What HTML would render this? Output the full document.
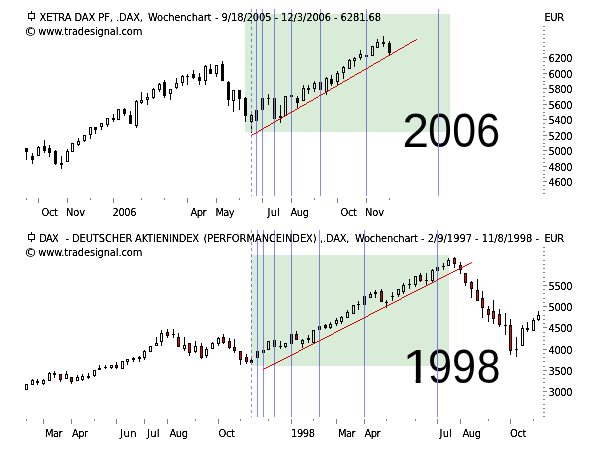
<!DOCTYPE html>
<html><head><meta charset="utf-8"><title>DAX 2006 vs 1998</title>
<style>html,body{margin:0;padding:0;background:#fff;}svg{display:block}text{white-space:pre}</style>
</head><body>
<svg width="600" height="450" viewBox="0 0 600 450" font-family='"DejaVu Sans Condensed", "DejaVu Sans", "Liberation Sans", sans-serif' font-stretch="condensed" fill="#000">
<rect x="0" y="0" width="600" height="450" fill="#fff"/>
<defs><filter id="px" x="0" y="0" width="600" height="450" filterUnits="userSpaceOnUse" color-interpolation-filters="sRGB"><feComponentTransfer><feFuncA type="linear" slope="2.0" intercept="-0.3"/></feComponentTransfer></filter></defs>
<g shape-rendering="crispEdges">
<rect x="245" y="14" width="205" height="118" fill="#d8ecd8"/>
<rect x="251" y="255" width="198" height="111" fill="#d8ecd8"/>
</g>
<text y="146.5" font-size="48" font-family="Liberation Sans, sans-serif" font-stretch="normal"><tspan x="402.60" textLength="26.43" lengthAdjust="spacingAndGlyphs">2</tspan><tspan x="428.35" textLength="23.49" lengthAdjust="spacingAndGlyphs">0</tspan><tspan x="452.30" textLength="23.84" lengthAdjust="spacingAndGlyphs">0</tspan><tspan x="476.30" textLength="23.87" lengthAdjust="spacingAndGlyphs">6</tspan></text>
<text y="383.3" font-size="48" font-family="Liberation Sans, sans-serif" font-stretch="normal"><tspan x="402.40" textLength="29.63" lengthAdjust="spacingAndGlyphs">1</tspan><tspan x="428.00" textLength="24.03" lengthAdjust="spacingAndGlyphs">9</tspan><tspan x="452.00" textLength="24.03" lengthAdjust="spacingAndGlyphs">9</tspan><tspan x="476.70" textLength="23.71" lengthAdjust="spacingAndGlyphs">8</tspan></text>
<rect x="405" y="378.5" width="10.7" height="6" fill="#fff"/><rect x="420.6" y="378.5" width="9.6" height="6" fill="#fff"/>
<g shape-rendering="crispEdges">
<rect x="31" y="11" width="1" height="10" fill="#000"/>
<rect x="28" y="13" width="7" height="6" fill="#000"/>
<rect x="29" y="14" width="5" height="4" fill="#fffffa"/>
<rect x="31" y="232" width="1" height="10" fill="#000"/>
<rect x="28" y="234" width="7" height="6" fill="#000"/>
<rect x="29" y="235" width="5" height="4" fill="#fffffa"/>
<rect x="26" y="152" width="1" height="8" fill="#000"/>
<rect x="25" y="148" width="3" height="4" fill="#000"/>
<rect x="32" y="153" width="1" height="3" fill="#000"/>
<rect x="32" y="160" width="1" height="4" fill="#000"/>
<rect x="31" y="156" width="3" height="4" fill="#000"/>
<rect x="38" y="146" width="1" height="1" fill="#000"/>
<rect x="37" y="147" width="3" height="9" fill="#000"/>
<rect x="38" y="148" width="1" height="7" fill="#fffffa"/>
<rect x="44" y="140" width="1" height="6" fill="#000"/>
<rect x="44" y="151" width="1" height="2" fill="#000"/>
<rect x="43" y="146" width="3" height="5" fill="#000"/>
<rect x="49" y="145" width="1" height="3" fill="#000"/>
<rect x="49" y="153" width="1" height="4" fill="#000"/>
<rect x="48" y="148" width="3" height="5" fill="#000"/>
<rect x="55" y="150" width="1" height="1" fill="#000"/>
<rect x="55" y="164" width="1" height="1" fill="#000"/>
<rect x="54" y="151" width="3" height="13" fill="#000"/>
<rect x="61" y="156" width="1" height="7" fill="#000"/>
<rect x="61" y="165" width="1" height="4" fill="#000"/>
<rect x="60" y="163" width="3" height="2" fill="#000"/>
<rect x="67" y="149" width="1" height="2" fill="#000"/>
<rect x="66" y="151" width="3" height="11" fill="#000"/>
<rect x="67" y="152" width="1" height="9" fill="#fffffa"/>
<rect x="71" y="143" width="3" height="9" fill="#000"/>
<rect x="72" y="144" width="1" height="7" fill="#fffffa"/>
<rect x="78" y="138" width="1" height="3" fill="#000"/>
<rect x="78" y="145" width="1" height="1" fill="#000"/>
<rect x="77" y="141" width="3" height="4" fill="#000"/>
<rect x="78" y="142" width="1" height="2" fill="#fffffa"/>
<rect x="84" y="141" width="1" height="1" fill="#000"/>
<rect x="83" y="135" width="3" height="6" fill="#000"/>
<rect x="84" y="136" width="1" height="4" fill="#fffffa"/>
<rect x="90" y="135" width="1" height="4" fill="#000"/>
<rect x="89" y="127" width="3" height="8" fill="#000"/>
<rect x="90" y="128" width="1" height="6" fill="#fffffa"/>
<rect x="95" y="130" width="1" height="4" fill="#000"/>
<rect x="94" y="127" width="3" height="3" fill="#000"/>
<rect x="101" y="127" width="1" height="3" fill="#000"/>
<rect x="100" y="123" width="3" height="4" fill="#000"/>
<rect x="101" y="124" width="1" height="2" fill="#fffffa"/>
<rect x="107" y="125" width="1" height="2" fill="#000"/>
<rect x="106" y="118" width="3" height="7" fill="#000"/>
<rect x="107" y="119" width="1" height="5" fill="#fffffa"/>
<rect x="113" y="114" width="1" height="4" fill="#000"/>
<rect x="113" y="120" width="1" height="2" fill="#000"/>
<rect x="112" y="118" width="3" height="2" fill="#000"/>
<rect x="117" y="109" width="3" height="11" fill="#000"/>
<rect x="118" y="110" width="1" height="9" fill="#fffffa"/>
<rect x="124" y="108" width="1" height="1" fill="#000"/>
<rect x="124" y="114" width="1" height="2" fill="#000"/>
<rect x="123" y="109" width="3" height="5" fill="#000"/>
<rect x="130" y="111" width="1" height="4" fill="#000"/>
<rect x="129" y="115" width="3" height="9" fill="#000"/>
<rect x="136" y="100" width="1" height="1" fill="#000"/>
<rect x="136" y="126" width="1" height="2" fill="#000"/>
<rect x="135" y="101" width="3" height="25" fill="#000"/>
<rect x="136" y="102" width="1" height="23" fill="#fffffa"/>
<rect x="141" y="92" width="1" height="8" fill="#000"/>
<rect x="141" y="103" width="1" height="1" fill="#000"/>
<rect x="140" y="100" width="3" height="3" fill="#000"/>
<rect x="141" y="101" width="1" height="1" fill="#fffffa"/>
<rect x="147" y="93" width="1" height="4" fill="#000"/>
<rect x="147" y="100" width="1" height="5" fill="#000"/>
<rect x="146" y="97" width="3" height="3" fill="#000"/>
<rect x="147" y="98" width="1" height="1" fill="#fffffa"/>
<rect x="153" y="88" width="1" height="1" fill="#000"/>
<rect x="153" y="98" width="1" height="1" fill="#000"/>
<rect x="152" y="89" width="3" height="9" fill="#000"/>
<rect x="153" y="90" width="1" height="7" fill="#fffffa"/>
<rect x="159" y="83" width="1" height="1" fill="#000"/>
<rect x="159" y="90" width="1" height="2" fill="#000"/>
<rect x="158" y="84" width="3" height="6" fill="#000"/>
<rect x="159" y="85" width="1" height="4" fill="#fffffa"/>
<rect x="164" y="80" width="1" height="2" fill="#000"/>
<rect x="164" y="96" width="1" height="2" fill="#000"/>
<rect x="163" y="82" width="3" height="14" fill="#000"/>
<rect x="170" y="94" width="1" height="6" fill="#000"/>
<rect x="169" y="89" width="3" height="5" fill="#000"/>
<rect x="170" y="90" width="1" height="3" fill="#fffffa"/>
<rect x="176" y="78" width="1" height="5" fill="#000"/>
<rect x="176" y="88" width="1" height="1" fill="#000"/>
<rect x="175" y="83" width="3" height="5" fill="#000"/>
<rect x="176" y="84" width="1" height="3" fill="#fffffa"/>
<rect x="182" y="75" width="1" height="1" fill="#000"/>
<rect x="182" y="83" width="1" height="3" fill="#000"/>
<rect x="181" y="76" width="3" height="7" fill="#000"/>
<rect x="182" y="77" width="1" height="5" fill="#fffffa"/>
<rect x="187" y="74" width="1" height="2" fill="#000"/>
<rect x="187" y="77" width="1" height="8" fill="#000"/>
<rect x="186" y="76" width="3" height="1" fill="#000"/>
<rect x="193" y="70" width="1" height="4" fill="#000"/>
<rect x="193" y="78" width="1" height="1" fill="#000"/>
<rect x="192" y="74" width="3" height="4" fill="#000"/>
<rect x="199" y="73" width="1" height="4" fill="#000"/>
<rect x="199" y="81" width="1" height="4" fill="#000"/>
<rect x="198" y="77" width="3" height="4" fill="#000"/>
<rect x="205" y="65" width="1" height="1" fill="#000"/>
<rect x="205" y="81" width="1" height="4" fill="#000"/>
<rect x="204" y="66" width="3" height="15" fill="#000"/>
<rect x="205" y="67" width="1" height="13" fill="#fffffa"/>
<rect x="210" y="64" width="1" height="5" fill="#000"/>
<rect x="209" y="69" width="3" height="5" fill="#000"/>
<rect x="216" y="74" width="1" height="3" fill="#000"/>
<rect x="215" y="65" width="3" height="9" fill="#000"/>
<rect x="216" y="66" width="1" height="7" fill="#fffffa"/>
<rect x="222" y="61" width="1" height="3" fill="#000"/>
<rect x="221" y="64" width="3" height="17" fill="#000"/>
<rect x="228" y="81" width="1" height="1" fill="#000"/>
<rect x="228" y="100" width="1" height="6" fill="#000"/>
<rect x="227" y="82" width="3" height="18" fill="#000"/>
<rect x="233" y="101" width="1" height="11" fill="#000"/>
<rect x="232" y="90" width="3" height="11" fill="#000"/>
<rect x="233" y="91" width="1" height="9" fill="#fffffa"/>
<rect x="239" y="99" width="1" height="11" fill="#000"/>
<rect x="238" y="90" width="3" height="9" fill="#000"/>
<rect x="245" y="97" width="1" height="1" fill="#000"/>
<rect x="245" y="116" width="1" height="6" fill="#000"/>
<rect x="244" y="98" width="3" height="18" fill="#000"/>
<rect x="251" y="113" width="1" height="2" fill="#000"/>
<rect x="251" y="122" width="1" height="11" fill="#000"/>
<rect x="250" y="115" width="3" height="7" fill="#000"/>
<rect x="251" y="116" width="1" height="5" fill="#d8ecd8"/>
<rect x="255" y="110" width="3" height="11" fill="#000"/>
<rect x="256" y="111" width="1" height="9" fill="#d8ecd8"/>
<rect x="261" y="98" width="3" height="12" fill="#000"/>
<rect x="262" y="99" width="1" height="10" fill="#d8ecd8"/>
<rect x="268" y="94" width="1" height="4" fill="#000"/>
<rect x="268" y="99" width="1" height="6" fill="#000"/>
<rect x="267" y="98" width="3" height="1" fill="#000"/>
<rect x="273" y="98" width="3" height="21" fill="#000"/>
<rect x="274" y="99" width="1" height="19" fill="#d8ecd8"/>
<rect x="280" y="105" width="1" height="11" fill="#000"/>
<rect x="280" y="118" width="1" height="5" fill="#000"/>
<rect x="279" y="116" width="3" height="2" fill="#000"/>
<rect x="284" y="96" width="3" height="20" fill="#000"/>
<rect x="285" y="97" width="1" height="18" fill="#d8ecd8"/>
<rect x="290" y="95" width="3" height="2" fill="#000"/>
<rect x="297" y="96" width="1" height="2" fill="#000"/>
<rect x="297" y="103" width="1" height="5" fill="#000"/>
<rect x="296" y="98" width="3" height="5" fill="#000"/>
<rect x="303" y="85" width="1" height="3" fill="#000"/>
<rect x="302" y="88" width="3" height="13" fill="#000"/>
<rect x="303" y="89" width="1" height="11" fill="#d8ecd8"/>
<rect x="308" y="85" width="1" height="3" fill="#000"/>
<rect x="308" y="90" width="1" height="4" fill="#000"/>
<rect x="307" y="88" width="3" height="2" fill="#000"/>
<rect x="314" y="81" width="1" height="2" fill="#000"/>
<rect x="314" y="89" width="1" height="3" fill="#000"/>
<rect x="313" y="83" width="3" height="6" fill="#000"/>
<rect x="314" y="84" width="1" height="4" fill="#d8ecd8"/>
<rect x="319" y="82" width="3" height="8" fill="#000"/>
<rect x="320" y="83" width="1" height="6" fill="#d8ecd8"/>
<rect x="326" y="77" width="1" height="1" fill="#000"/>
<rect x="326" y="92" width="1" height="3" fill="#000"/>
<rect x="325" y="78" width="3" height="14" fill="#000"/>
<rect x="326" y="79" width="1" height="12" fill="#d8ecd8"/>
<rect x="331" y="75" width="1" height="4" fill="#000"/>
<rect x="331" y="84" width="1" height="2" fill="#000"/>
<rect x="330" y="79" width="3" height="5" fill="#000"/>
<rect x="337" y="71" width="1" height="2" fill="#000"/>
<rect x="337" y="82" width="1" height="3" fill="#000"/>
<rect x="336" y="73" width="3" height="9" fill="#000"/>
<rect x="337" y="74" width="1" height="7" fill="#d8ecd8"/>
<rect x="343" y="66" width="1" height="1" fill="#000"/>
<rect x="343" y="73" width="1" height="6" fill="#000"/>
<rect x="342" y="67" width="3" height="6" fill="#000"/>
<rect x="343" y="68" width="1" height="4" fill="#d8ecd8"/>
<rect x="349" y="59" width="1" height="1" fill="#000"/>
<rect x="348" y="60" width="3" height="9" fill="#000"/>
<rect x="349" y="61" width="1" height="7" fill="#d8ecd8"/>
<rect x="354" y="57" width="1" height="1" fill="#000"/>
<rect x="354" y="61" width="1" height="6" fill="#000"/>
<rect x="353" y="58" width="3" height="3" fill="#000"/>
<rect x="354" y="59" width="1" height="1" fill="#d8ecd8"/>
<rect x="360" y="50" width="1" height="4" fill="#000"/>
<rect x="360" y="58" width="1" height="2" fill="#000"/>
<rect x="359" y="54" width="3" height="4" fill="#000"/>
<rect x="360" y="55" width="1" height="2" fill="#d8ecd8"/>
<rect x="365" y="55" width="3" height="2" fill="#000"/>
<rect x="371" y="46" width="3" height="10" fill="#000"/>
<rect x="372" y="47" width="1" height="8" fill="#d8ecd8"/>
<rect x="377" y="39" width="1" height="3" fill="#000"/>
<rect x="376" y="42" width="3" height="6" fill="#000"/>
<rect x="377" y="43" width="1" height="4" fill="#d8ecd8"/>
<rect x="383" y="36" width="1" height="6" fill="#000"/>
<rect x="383" y="44" width="1" height="3" fill="#000"/>
<rect x="382" y="42" width="3" height="2" fill="#000"/>
<rect x="389" y="41" width="1" height="2" fill="#000"/>
<rect x="389" y="53" width="1" height="3" fill="#000"/>
<rect x="388" y="43" width="3" height="10" fill="#000"/>
<rect x="25" y="384" width="3" height="6" fill="#000"/>
<rect x="26" y="385" width="1" height="4" fill="#fffffa"/>
<rect x="32" y="379" width="1" height="1" fill="#000"/>
<rect x="31" y="380" width="3" height="5" fill="#000"/>
<rect x="32" y="381" width="1" height="3" fill="#fffffa"/>
<rect x="37" y="379" width="1" height="2" fill="#000"/>
<rect x="37" y="383" width="1" height="2" fill="#000"/>
<rect x="36" y="381" width="3" height="2" fill="#000"/>
<rect x="43" y="379" width="1" height="1" fill="#000"/>
<rect x="43" y="384" width="1" height="1" fill="#000"/>
<rect x="42" y="380" width="3" height="4" fill="#000"/>
<rect x="43" y="381" width="1" height="2" fill="#fffffa"/>
<rect x="49" y="372" width="1" height="1" fill="#000"/>
<rect x="48" y="373" width="3" height="8" fill="#000"/>
<rect x="49" y="374" width="1" height="6" fill="#fffffa"/>
<rect x="54" y="371" width="1" height="2" fill="#000"/>
<rect x="54" y="375" width="1" height="3" fill="#000"/>
<rect x="53" y="373" width="3" height="2" fill="#000"/>
<rect x="60" y="380" width="1" height="2" fill="#000"/>
<rect x="59" y="374" width="3" height="6" fill="#000"/>
<rect x="60" y="375" width="1" height="4" fill="#ff0000"/>
<rect x="66" y="371" width="1" height="3" fill="#000"/>
<rect x="65" y="374" width="3" height="5" fill="#000"/>
<rect x="66" y="375" width="1" height="3" fill="#fffffa"/>
<rect x="71" y="382" width="1" height="2" fill="#000"/>
<rect x="70" y="377" width="3" height="5" fill="#000"/>
<rect x="71" y="378" width="1" height="3" fill="#ff0000"/>
<rect x="77" y="375" width="1" height="2" fill="#000"/>
<rect x="76" y="377" width="3" height="4" fill="#000"/>
<rect x="77" y="378" width="1" height="2" fill="#fffffa"/>
<rect x="82" y="374" width="1" height="2" fill="#000"/>
<rect x="82" y="380" width="1" height="1" fill="#000"/>
<rect x="81" y="376" width="3" height="4" fill="#000"/>
<rect x="82" y="377" width="1" height="2" fill="#fffffa"/>
<rect x="88" y="373" width="1" height="3" fill="#000"/>
<rect x="88" y="378" width="1" height="1" fill="#000"/>
<rect x="87" y="376" width="3" height="2" fill="#000"/>
<rect x="94" y="376" width="1" height="1" fill="#000"/>
<rect x="93" y="370" width="3" height="6" fill="#000"/>
<rect x="94" y="371" width="1" height="4" fill="#fffffa"/>
<rect x="99" y="365" width="1" height="3" fill="#000"/>
<rect x="98" y="368" width="3" height="2" fill="#000"/>
<rect x="105" y="365" width="1" height="2" fill="#000"/>
<rect x="105" y="368" width="1" height="1" fill="#000"/>
<rect x="104" y="367" width="3" height="1" fill="#000"/>
<rect x="111" y="368" width="1" height="1" fill="#000"/>
<rect x="110" y="365" width="3" height="3" fill="#000"/>
<rect x="111" y="366" width="1" height="1" fill="#fffffa"/>
<rect x="116" y="362" width="1" height="3" fill="#000"/>
<rect x="116" y="368" width="1" height="1" fill="#000"/>
<rect x="115" y="365" width="3" height="3" fill="#000"/>
<rect x="116" y="366" width="1" height="1" fill="#ff0000"/>
<rect x="121" y="361" width="3" height="8" fill="#000"/>
<rect x="122" y="362" width="1" height="6" fill="#fffffa"/>
<rect x="127" y="362" width="1" height="3" fill="#000"/>
<rect x="126" y="359" width="3" height="3" fill="#000"/>
<rect x="127" y="360" width="1" height="1" fill="#fffffa"/>
<rect x="133" y="357" width="1" height="1" fill="#000"/>
<rect x="133" y="360" width="1" height="2" fill="#000"/>
<rect x="132" y="358" width="3" height="2" fill="#000"/>
<rect x="139" y="356" width="1" height="1" fill="#000"/>
<rect x="139" y="359" width="1" height="3" fill="#000"/>
<rect x="138" y="357" width="3" height="2" fill="#000"/>
<rect x="144" y="350" width="1" height="1" fill="#000"/>
<rect x="144" y="358" width="1" height="2" fill="#000"/>
<rect x="143" y="351" width="3" height="7" fill="#000"/>
<rect x="144" y="352" width="1" height="5" fill="#fffffa"/>
<rect x="149" y="346" width="3" height="6" fill="#000"/>
<rect x="150" y="347" width="1" height="4" fill="#fffffa"/>
<rect x="156" y="337" width="1" height="6" fill="#000"/>
<rect x="155" y="343" width="3" height="3" fill="#000"/>
<rect x="156" y="344" width="1" height="1" fill="#fffffa"/>
<rect x="161" y="330" width="1" height="3" fill="#000"/>
<rect x="161" y="342" width="1" height="4" fill="#000"/>
<rect x="160" y="333" width="3" height="9" fill="#000"/>
<rect x="161" y="334" width="1" height="7" fill="#fffffa"/>
<rect x="167" y="329" width="1" height="3" fill="#000"/>
<rect x="167" y="336" width="1" height="2" fill="#000"/>
<rect x="166" y="332" width="3" height="4" fill="#000"/>
<rect x="167" y="333" width="1" height="2" fill="#ff0000"/>
<rect x="173" y="329" width="1" height="5" fill="#000"/>
<rect x="173" y="335" width="1" height="3" fill="#000"/>
<rect x="172" y="334" width="3" height="1" fill="#000"/>
<rect x="178" y="333" width="1" height="4" fill="#000"/>
<rect x="177" y="337" width="3" height="10" fill="#000"/>
<rect x="178" y="338" width="1" height="8" fill="#ff0000"/>
<rect x="184" y="337" width="1" height="8" fill="#000"/>
<rect x="184" y="349" width="1" height="2" fill="#000"/>
<rect x="183" y="345" width="3" height="4" fill="#000"/>
<rect x="184" y="346" width="1" height="2" fill="#fffffa"/>
<rect x="189" y="353" width="1" height="3" fill="#000"/>
<rect x="188" y="343" width="3" height="10" fill="#000"/>
<rect x="189" y="344" width="1" height="8" fill="#ff0000"/>
<rect x="195" y="341" width="1" height="5" fill="#000"/>
<rect x="195" y="352" width="1" height="1" fill="#000"/>
<rect x="194" y="346" width="3" height="6" fill="#000"/>
<rect x="195" y="347" width="1" height="4" fill="#fffffa"/>
<rect x="201" y="343" width="1" height="3" fill="#000"/>
<rect x="201" y="358" width="1" height="1" fill="#000"/>
<rect x="200" y="346" width="3" height="12" fill="#000"/>
<rect x="201" y="347" width="1" height="10" fill="#ff0000"/>
<rect x="206" y="347" width="1" height="2" fill="#000"/>
<rect x="206" y="356" width="1" height="2" fill="#000"/>
<rect x="205" y="349" width="3" height="7" fill="#000"/>
<rect x="206" y="350" width="1" height="5" fill="#fffffa"/>
<rect x="212" y="342" width="1" height="1" fill="#000"/>
<rect x="211" y="343" width="3" height="6" fill="#000"/>
<rect x="212" y="344" width="1" height="4" fill="#fffffa"/>
<rect x="218" y="337" width="1" height="1" fill="#000"/>
<rect x="218" y="344" width="1" height="2" fill="#000"/>
<rect x="217" y="338" width="3" height="6" fill="#000"/>
<rect x="218" y="339" width="1" height="4" fill="#fffffa"/>
<rect x="223" y="334" width="1" height="3" fill="#000"/>
<rect x="223" y="343" width="1" height="1" fill="#000"/>
<rect x="222" y="337" width="3" height="6" fill="#000"/>
<rect x="223" y="338" width="1" height="4" fill="#ff0000"/>
<rect x="229" y="338" width="1" height="3" fill="#000"/>
<rect x="229" y="348" width="1" height="1" fill="#000"/>
<rect x="228" y="341" width="3" height="7" fill="#000"/>
<rect x="229" y="342" width="1" height="5" fill="#ff0000"/>
<rect x="234" y="339" width="1" height="8" fill="#000"/>
<rect x="234" y="351" width="1" height="2" fill="#000"/>
<rect x="233" y="347" width="3" height="4" fill="#000"/>
<rect x="234" y="348" width="1" height="2" fill="#ff0000"/>
<rect x="240" y="360" width="1" height="5" fill="#000"/>
<rect x="239" y="351" width="3" height="9" fill="#000"/>
<rect x="240" y="352" width="1" height="7" fill="#ff0000"/>
<rect x="246" y="354" width="1" height="3" fill="#000"/>
<rect x="246" y="362" width="1" height="2" fill="#000"/>
<rect x="245" y="357" width="3" height="5" fill="#000"/>
<rect x="246" y="358" width="1" height="3" fill="#ff0000"/>
<rect x="251" y="359" width="1" height="1" fill="#000"/>
<rect x="250" y="360" width="3" height="3" fill="#000"/>
<rect x="251" y="361" width="1" height="1" fill="#dc0000"/>
<rect x="256" y="351" width="3" height="7" fill="#000"/>
<rect x="257" y="352" width="1" height="5" fill="#d8ecd8"/>
<rect x="262" y="350" width="3" height="3" fill="#000"/>
<rect x="263" y="351" width="1" height="1" fill="#d8ecd8"/>
<rect x="267" y="341" width="3" height="9" fill="#000"/>
<rect x="268" y="342" width="1" height="7" fill="#d8ecd8"/>
<rect x="273" y="340" width="3" height="7" fill="#000"/>
<rect x="274" y="341" width="1" height="5" fill="#d8ecd8"/>
<rect x="280" y="341" width="1" height="5" fill="#000"/>
<rect x="280" y="347" width="1" height="2" fill="#000"/>
<rect x="279" y="346" width="3" height="1" fill="#000"/>
<rect x="285" y="347" width="1" height="1" fill="#000"/>
<rect x="284" y="343" width="3" height="4" fill="#000"/>
<rect x="285" y="344" width="1" height="2" fill="#d8ecd8"/>
<rect x="290" y="334" width="3" height="10" fill="#000"/>
<rect x="291" y="335" width="1" height="8" fill="#d8ecd8"/>
<rect x="296" y="331" width="1" height="3" fill="#000"/>
<rect x="295" y="334" width="3" height="6" fill="#000"/>
<rect x="296" y="335" width="1" height="4" fill="#dc0000"/>
<rect x="302" y="339" width="1" height="1" fill="#000"/>
<rect x="302" y="344" width="1" height="4" fill="#000"/>
<rect x="301" y="340" width="3" height="4" fill="#000"/>
<rect x="302" y="341" width="1" height="2" fill="#d8ecd8"/>
<rect x="308" y="335" width="1" height="3" fill="#000"/>
<rect x="308" y="340" width="1" height="3" fill="#000"/>
<rect x="307" y="338" width="3" height="2" fill="#000"/>
<rect x="312" y="330" width="3" height="13" fill="#000"/>
<rect x="313" y="331" width="1" height="11" fill="#d8ecd8"/>
<rect x="318" y="326" width="3" height="4" fill="#000"/>
<rect x="319" y="327" width="1" height="2" fill="#d8ecd8"/>
<rect x="325" y="324" width="1" height="1" fill="#000"/>
<rect x="325" y="328" width="1" height="1" fill="#000"/>
<rect x="324" y="325" width="3" height="3" fill="#000"/>
<rect x="325" y="326" width="1" height="1" fill="#dc0000"/>
<rect x="330" y="322" width="1" height="2" fill="#000"/>
<rect x="330" y="328" width="1" height="1" fill="#000"/>
<rect x="329" y="324" width="3" height="4" fill="#000"/>
<rect x="330" y="325" width="1" height="2" fill="#d8ecd8"/>
<rect x="336" y="318" width="1" height="2" fill="#000"/>
<rect x="336" y="324" width="1" height="2" fill="#000"/>
<rect x="335" y="320" width="3" height="4" fill="#000"/>
<rect x="336" y="321" width="1" height="2" fill="#d8ecd8"/>
<rect x="341" y="316" width="1" height="1" fill="#000"/>
<rect x="341" y="322" width="1" height="2" fill="#000"/>
<rect x="340" y="317" width="3" height="5" fill="#000"/>
<rect x="341" y="318" width="1" height="3" fill="#d8ecd8"/>
<rect x="347" y="310" width="1" height="2" fill="#000"/>
<rect x="346" y="312" width="3" height="6" fill="#000"/>
<rect x="347" y="313" width="1" height="4" fill="#d8ecd8"/>
<rect x="352" y="305" width="3" height="9" fill="#000"/>
<rect x="353" y="306" width="1" height="7" fill="#d8ecd8"/>
<rect x="358" y="301" width="1" height="3" fill="#000"/>
<rect x="358" y="305" width="1" height="5" fill="#000"/>
<rect x="357" y="304" width="3" height="1" fill="#000"/>
<rect x="363" y="296" width="3" height="9" fill="#000"/>
<rect x="364" y="297" width="1" height="7" fill="#d8ecd8"/>
<rect x="370" y="292" width="1" height="2" fill="#000"/>
<rect x="369" y="294" width="3" height="4" fill="#000"/>
<rect x="370" y="295" width="1" height="2" fill="#d8ecd8"/>
<rect x="375" y="290" width="1" height="2" fill="#000"/>
<rect x="375" y="294" width="1" height="4" fill="#000"/>
<rect x="374" y="292" width="3" height="2" fill="#000"/>
<rect x="381" y="289" width="1" height="2" fill="#000"/>
<rect x="380" y="291" width="3" height="11" fill="#000"/>
<rect x="381" y="292" width="1" height="9" fill="#dc0000"/>
<rect x="386" y="300" width="1" height="2" fill="#000"/>
<rect x="386" y="303" width="1" height="5" fill="#000"/>
<rect x="385" y="302" width="3" height="1" fill="#000"/>
<rect x="392" y="292" width="1" height="4" fill="#000"/>
<rect x="392" y="297" width="1" height="4" fill="#000"/>
<rect x="391" y="296" width="3" height="1" fill="#000"/>
<rect x="398" y="295" width="1" height="2" fill="#000"/>
<rect x="397" y="289" width="3" height="6" fill="#000"/>
<rect x="398" y="290" width="1" height="4" fill="#d8ecd8"/>
<rect x="403" y="283" width="1" height="2" fill="#000"/>
<rect x="403" y="292" width="1" height="2" fill="#000"/>
<rect x="402" y="285" width="3" height="7" fill="#000"/>
<rect x="403" y="286" width="1" height="5" fill="#d8ecd8"/>
<rect x="409" y="279" width="1" height="5" fill="#000"/>
<rect x="409" y="285" width="1" height="4" fill="#000"/>
<rect x="408" y="284" width="3" height="1" fill="#000"/>
<rect x="415" y="285" width="1" height="2" fill="#000"/>
<rect x="414" y="276" width="3" height="9" fill="#000"/>
<rect x="415" y="277" width="1" height="7" fill="#d8ecd8"/>
<rect x="420" y="273" width="1" height="2" fill="#000"/>
<rect x="420" y="281" width="1" height="1" fill="#000"/>
<rect x="419" y="275" width="3" height="6" fill="#000"/>
<rect x="420" y="276" width="1" height="4" fill="#dc0000"/>
<rect x="426" y="273" width="1" height="7" fill="#000"/>
<rect x="426" y="281" width="1" height="4" fill="#000"/>
<rect x="425" y="280" width="3" height="1" fill="#000"/>
<rect x="432" y="269" width="1" height="1" fill="#000"/>
<rect x="432" y="281" width="1" height="1" fill="#000"/>
<rect x="431" y="270" width="3" height="11" fill="#000"/>
<rect x="432" y="271" width="1" height="9" fill="#d8ecd8"/>
<rect x="436" y="267" width="3" height="4" fill="#000"/>
<rect x="437" y="268" width="1" height="2" fill="#d8ecd8"/>
<rect x="443" y="263" width="1" height="3" fill="#000"/>
<rect x="443" y="267" width="1" height="3" fill="#000"/>
<rect x="442" y="266" width="3" height="1" fill="#000"/>
<rect x="448" y="258" width="1" height="2" fill="#000"/>
<rect x="447" y="260" width="3" height="6" fill="#000"/>
<rect x="448" y="261" width="1" height="4" fill="#d8ecd8"/>
<rect x="454" y="257" width="1" height="1" fill="#000"/>
<rect x="454" y="264" width="1" height="4" fill="#000"/>
<rect x="453" y="258" width="3" height="6" fill="#000"/>
<rect x="454" y="259" width="1" height="4" fill="#ff0000"/>
<rect x="460" y="262" width="1" height="3" fill="#000"/>
<rect x="460" y="270" width="1" height="4" fill="#000"/>
<rect x="459" y="265" width="3" height="5" fill="#000"/>
<rect x="460" y="266" width="1" height="3" fill="#ff0000"/>
<rect x="465" y="283" width="1" height="3" fill="#000"/>
<rect x="464" y="273" width="3" height="10" fill="#000"/>
<rect x="465" y="274" width="1" height="8" fill="#ff0000"/>
<rect x="471" y="281" width="1" height="1" fill="#000"/>
<rect x="471" y="289" width="1" height="9" fill="#000"/>
<rect x="470" y="282" width="3" height="7" fill="#000"/>
<rect x="471" y="283" width="1" height="5" fill="#ff0000"/>
<rect x="477" y="279" width="1" height="11" fill="#000"/>
<rect x="476" y="290" width="3" height="11" fill="#000"/>
<rect x="477" y="291" width="1" height="9" fill="#ff0000"/>
<rect x="482" y="291" width="1" height="7" fill="#000"/>
<rect x="482" y="308" width="1" height="10" fill="#000"/>
<rect x="481" y="298" width="3" height="10" fill="#000"/>
<rect x="482" y="299" width="1" height="8" fill="#ff0000"/>
<rect x="488" y="306" width="1" height="3" fill="#000"/>
<rect x="488" y="315" width="1" height="7" fill="#000"/>
<rect x="487" y="309" width="3" height="6" fill="#000"/>
<rect x="488" y="310" width="1" height="4" fill="#ff0000"/>
<rect x="493" y="300" width="1" height="11" fill="#000"/>
<rect x="493" y="319" width="1" height="5" fill="#000"/>
<rect x="492" y="311" width="3" height="8" fill="#000"/>
<rect x="493" y="312" width="1" height="6" fill="#ff0000"/>
<rect x="499" y="309" width="1" height="5" fill="#000"/>
<rect x="499" y="325" width="1" height="2" fill="#000"/>
<rect x="498" y="314" width="3" height="11" fill="#000"/>
<rect x="499" y="315" width="1" height="9" fill="#ff0000"/>
<rect x="505" y="313" width="1" height="12" fill="#000"/>
<rect x="505" y="326" width="1" height="9" fill="#000"/>
<rect x="504" y="325" width="3" height="1" fill="#000"/>
<rect x="510" y="319" width="1" height="6" fill="#000"/>
<rect x="510" y="351" width="1" height="4" fill="#000"/>
<rect x="509" y="325" width="3" height="26" fill="#000"/>
<rect x="510" y="326" width="1" height="24" fill="#ff0000"/>
<rect x="516" y="337" width="1" height="12" fill="#000"/>
<rect x="516" y="350" width="1" height="7" fill="#000"/>
<rect x="515" y="349" width="3" height="1" fill="#000"/>
<rect x="522" y="325" width="1" height="3" fill="#000"/>
<rect x="521" y="328" width="3" height="18" fill="#000"/>
<rect x="522" y="329" width="1" height="16" fill="#fffffa"/>
<rect x="527" y="322" width="1" height="6" fill="#000"/>
<rect x="527" y="330" width="1" height="2" fill="#000"/>
<rect x="526" y="328" width="3" height="2" fill="#000"/>
<rect x="533" y="318" width="1" height="2" fill="#000"/>
<rect x="532" y="320" width="3" height="11" fill="#000"/>
<rect x="533" y="321" width="1" height="9" fill="#fffffa"/>
<rect x="538" y="311" width="1" height="4" fill="#000"/>
<rect x="538" y="320" width="1" height="1" fill="#000"/>
<rect x="537" y="315" width="3" height="5" fill="#000"/>
<rect x="538" y="316" width="1" height="3" fill="#fffffa"/>
<rect x="256" y="9" width="1" height="5" fill="#8888ff"/><rect x="256" y="14" width="1" height="118" fill="#737ed8"/><rect x="256" y="132" width="1" height="64" fill="#8888ff"/>
<rect x="262" y="9" width="1" height="5" fill="#8888ff"/><rect x="262" y="14" width="1" height="118" fill="#737ed8"/><rect x="262" y="132" width="1" height="64" fill="#8888ff"/>
<rect x="274" y="9" width="1" height="5" fill="#8888ff"/><rect x="274" y="14" width="1" height="118" fill="#737ed8"/><rect x="274" y="132" width="1" height="64" fill="#8888ff"/>
<rect x="291" y="9" width="1" height="5" fill="#8888ff"/><rect x="291" y="14" width="1" height="118" fill="#737ed8"/><rect x="291" y="132" width="1" height="64" fill="#8888ff"/>
<rect x="320" y="9" width="1" height="5" fill="#8888ff"/><rect x="320" y="14" width="1" height="118" fill="#737ed8"/><rect x="320" y="132" width="1" height="64" fill="#8888ff"/>
<rect x="366" y="9" width="1" height="5" fill="#8888ff"/><rect x="366" y="14" width="1" height="118" fill="#737ed8"/><rect x="366" y="132" width="1" height="64" fill="#8888ff"/>
<rect x="438" y="9" width="1" height="5" fill="#8888ff"/><rect x="438" y="14" width="1" height="118" fill="#737ed8"/><rect x="438" y="132" width="1" height="64" fill="#8888ff"/>
<rect x="251" y="9" width="1" height="3" fill="#8888ff"/>
<rect x="251" y="15" width="1" height="3" fill="#737ed8"/>
<rect x="251" y="21" width="1" height="3" fill="#737ed8"/>
<rect x="251" y="27" width="1" height="3" fill="#737ed8"/>
<rect x="251" y="33" width="1" height="3" fill="#737ed8"/>
<rect x="251" y="39" width="1" height="3" fill="#737ed8"/>
<rect x="251" y="45" width="1" height="3" fill="#737ed8"/>
<rect x="251" y="51" width="1" height="3" fill="#737ed8"/>
<rect x="251" y="57" width="1" height="3" fill="#737ed8"/>
<rect x="251" y="63" width="1" height="3" fill="#737ed8"/>
<rect x="251" y="69" width="1" height="3" fill="#737ed8"/>
<rect x="251" y="75" width="1" height="3" fill="#737ed8"/>
<rect x="251" y="81" width="1" height="3" fill="#737ed8"/>
<rect x="251" y="87" width="1" height="3" fill="#737ed8"/>
<rect x="251" y="93" width="1" height="3" fill="#737ed8"/>
<rect x="251" y="99" width="1" height="3" fill="#737ed8"/>
<rect x="251" y="105" width="1" height="3" fill="#737ed8"/>
<rect x="251" y="111" width="1" height="3" fill="#737ed8"/>
<rect x="251" y="117" width="1" height="3" fill="#737ed8"/>
<rect x="251" y="123" width="1" height="3" fill="#737ed8"/>
<rect x="251" y="129" width="1" height="3" fill="#737ed8"/>
<rect x="251" y="135" width="1" height="3" fill="#8888ff"/>
<rect x="251" y="141" width="1" height="3" fill="#8888ff"/>
<rect x="251" y="147" width="1" height="3" fill="#8888ff"/>
<rect x="251" y="153" width="1" height="3" fill="#8888ff"/>
<rect x="251" y="159" width="1" height="3" fill="#8888ff"/>
<rect x="251" y="165" width="1" height="3" fill="#8888ff"/>
<rect x="251" y="171" width="1" height="3" fill="#8888ff"/>
<rect x="251" y="177" width="1" height="3" fill="#8888ff"/>
<rect x="251" y="183" width="1" height="3" fill="#8888ff"/>
<rect x="251" y="189" width="1" height="3" fill="#8888ff"/>
<rect x="251" y="195" width="1" height="1" fill="#8888ff"/>
<rect x="257" y="230" width="1" height="25" fill="#8888ff"/><rect x="257" y="255" width="1" height="111" fill="#737ed8"/><rect x="257" y="366" width="1" height="51" fill="#8888ff"/>
<rect x="263" y="230" width="1" height="25" fill="#8888ff"/><rect x="263" y="255" width="1" height="111" fill="#737ed8"/><rect x="263" y="366" width="1" height="51" fill="#8888ff"/>
<rect x="274" y="230" width="1" height="25" fill="#8888ff"/><rect x="274" y="255" width="1" height="111" fill="#737ed8"/><rect x="274" y="366" width="1" height="51" fill="#8888ff"/>
<rect x="291" y="230" width="1" height="25" fill="#8888ff"/><rect x="291" y="255" width="1" height="111" fill="#737ed8"/><rect x="291" y="366" width="1" height="51" fill="#8888ff"/>
<rect x="319" y="230" width="1" height="25" fill="#8888ff"/><rect x="319" y="255" width="1" height="111" fill="#737ed8"/><rect x="319" y="366" width="1" height="51" fill="#8888ff"/>
<rect x="364" y="230" width="1" height="25" fill="#8888ff"/><rect x="364" y="255" width="1" height="111" fill="#737ed8"/><rect x="364" y="366" width="1" height="51" fill="#8888ff"/>
<rect x="437" y="230" width="1" height="25" fill="#8888ff"/><rect x="437" y="255" width="1" height="111" fill="#737ed8"/><rect x="437" y="366" width="1" height="51" fill="#8888ff"/>
<rect x="251" y="230" width="1" height="3" fill="#8888ff"/>
<rect x="251" y="236" width="1" height="3" fill="#8888ff"/>
<rect x="251" y="242" width="1" height="3" fill="#8888ff"/>
<rect x="251" y="248" width="1" height="3" fill="#8888ff"/>
<rect x="251" y="254" width="1" height="1" fill="#8888ff"/><rect x="251" y="255" width="1" height="2" fill="#737ed8"/>
<rect x="251" y="260" width="1" height="3" fill="#737ed8"/>
<rect x="251" y="266" width="1" height="3" fill="#737ed8"/>
<rect x="251" y="272" width="1" height="3" fill="#737ed8"/>
<rect x="251" y="278" width="1" height="3" fill="#737ed8"/>
<rect x="251" y="284" width="1" height="3" fill="#737ed8"/>
<rect x="251" y="290" width="1" height="3" fill="#737ed8"/>
<rect x="251" y="296" width="1" height="3" fill="#737ed8"/>
<rect x="251" y="302" width="1" height="3" fill="#737ed8"/>
<rect x="251" y="308" width="1" height="3" fill="#737ed8"/>
<rect x="251" y="314" width="1" height="3" fill="#737ed8"/>
<rect x="251" y="320" width="1" height="3" fill="#737ed8"/>
<rect x="251" y="326" width="1" height="3" fill="#737ed8"/>
<rect x="251" y="332" width="1" height="3" fill="#737ed8"/>
<rect x="251" y="338" width="1" height="3" fill="#737ed8"/>
<rect x="251" y="344" width="1" height="3" fill="#737ed8"/>
<rect x="251" y="350" width="1" height="3" fill="#737ed8"/>
<rect x="251" y="356" width="1" height="3" fill="#737ed8"/>
<rect x="251" y="362" width="1" height="3" fill="#737ed8"/>
<rect x="251" y="368" width="1" height="3" fill="#8888ff"/>
<rect x="251" y="374" width="1" height="3" fill="#8888ff"/>
<rect x="251" y="380" width="1" height="3" fill="#8888ff"/>
<rect x="251" y="386" width="1" height="3" fill="#8888ff"/>
<rect x="251" y="392" width="1" height="3" fill="#8888ff"/>
<rect x="251" y="398" width="1" height="3" fill="#8888ff"/>
<rect x="251" y="404" width="1" height="3" fill="#8888ff"/>
<rect x="251" y="410" width="1" height="3" fill="#8888ff"/>
<rect x="251" y="416" width="1" height="1" fill="#8888ff"/>
<rect x="543" y="26" width="2" height="1" fill="#808080"/>
<rect x="543" y="30" width="2" height="1" fill="#808080"/>
<rect x="543" y="34" width="2" height="1" fill="#808080"/>
<rect x="543" y="38" width="2" height="1" fill="#808080"/>
<rect x="543" y="42" width="2" height="1" fill="#808080"/>
<rect x="543" y="46" width="2" height="1" fill="#808080"/>
<rect x="543" y="50" width="2" height="1" fill="#808080"/>
<rect x="543" y="53" width="2" height="1" fill="#808080"/>
<rect x="543" y="57" width="4" height="1" fill="#808080"/>
<rect x="543" y="61" width="2" height="1" fill="#808080"/>
<rect x="543" y="65" width="2" height="1" fill="#808080"/>
<rect x="543" y="69" width="2" height="1" fill="#808080"/>
<rect x="543" y="73" width="4" height="1" fill="#808080"/>
<rect x="543" y="77" width="2" height="1" fill="#808080"/>
<rect x="543" y="81" width="2" height="1" fill="#808080"/>
<rect x="543" y="84" width="2" height="1" fill="#808080"/>
<rect x="543" y="88" width="4" height="1" fill="#808080"/>
<rect x="543" y="92" width="2" height="1" fill="#808080"/>
<rect x="543" y="96" width="2" height="1" fill="#808080"/>
<rect x="543" y="100" width="2" height="1" fill="#808080"/>
<rect x="543" y="104" width="4" height="1" fill="#808080"/>
<rect x="543" y="108" width="2" height="1" fill="#808080"/>
<rect x="543" y="112" width="2" height="1" fill="#808080"/>
<rect x="543" y="115" width="2" height="1" fill="#808080"/>
<rect x="543" y="119" width="4" height="1" fill="#808080"/>
<rect x="543" y="123" width="2" height="1" fill="#808080"/>
<rect x="543" y="127" width="2" height="1" fill="#808080"/>
<rect x="543" y="131" width="2" height="1" fill="#808080"/>
<rect x="543" y="135" width="4" height="1" fill="#808080"/>
<rect x="543" y="139" width="2" height="1" fill="#808080"/>
<rect x="543" y="143" width="2" height="1" fill="#808080"/>
<rect x="543" y="146" width="2" height="1" fill="#808080"/>
<rect x="543" y="150" width="4" height="1" fill="#808080"/>
<rect x="543" y="154" width="2" height="1" fill="#808080"/>
<rect x="543" y="158" width="2" height="1" fill="#808080"/>
<rect x="543" y="162" width="2" height="1" fill="#808080"/>
<rect x="543" y="166" width="4" height="1" fill="#808080"/>
<rect x="543" y="170" width="2" height="1" fill="#808080"/>
<rect x="543" y="174" width="2" height="1" fill="#808080"/>
<rect x="543" y="177" width="2" height="1" fill="#808080"/>
<rect x="543" y="181" width="4" height="1" fill="#808080"/>
<rect x="543" y="185" width="2" height="1" fill="#808080"/>
<rect x="543" y="189" width="2" height="1" fill="#808080"/>
<rect x="543" y="193" width="2" height="1" fill="#808080"/>
<rect x="543" y="247" width="2" height="1" fill="#808080"/>
<rect x="543" y="251" width="2" height="1" fill="#808080"/>
<rect x="543" y="255" width="2" height="1" fill="#808080"/>
<rect x="543" y="260" width="2" height="1" fill="#808080"/>
<rect x="543" y="264" width="2" height="1" fill="#808080"/>
<rect x="543" y="268" width="2" height="1" fill="#808080"/>
<rect x="543" y="272" width="2" height="1" fill="#808080"/>
<rect x="543" y="277" width="2" height="1" fill="#808080"/>
<rect x="543" y="281" width="2" height="1" fill="#808080"/>
<rect x="543" y="285" width="4" height="1" fill="#808080"/>
<rect x="543" y="289" width="2" height="1" fill="#808080"/>
<rect x="543" y="293" width="2" height="1" fill="#808080"/>
<rect x="543" y="298" width="2" height="1" fill="#808080"/>
<rect x="543" y="302" width="2" height="1" fill="#808080"/>
<rect x="543" y="306" width="4" height="1" fill="#808080"/>
<rect x="543" y="310" width="2" height="1" fill="#808080"/>
<rect x="543" y="315" width="2" height="1" fill="#808080"/>
<rect x="543" y="319" width="2" height="1" fill="#808080"/>
<rect x="543" y="323" width="2" height="1" fill="#808080"/>
<rect x="543" y="327" width="4" height="1" fill="#808080"/>
<rect x="543" y="332" width="2" height="1" fill="#808080"/>
<rect x="543" y="336" width="2" height="1" fill="#808080"/>
<rect x="543" y="340" width="2" height="1" fill="#808080"/>
<rect x="543" y="344" width="2" height="1" fill="#808080"/>
<rect x="543" y="349" width="4" height="1" fill="#808080"/>
<rect x="543" y="353" width="2" height="1" fill="#808080"/>
<rect x="543" y="357" width="2" height="1" fill="#808080"/>
<rect x="543" y="361" width="2" height="1" fill="#808080"/>
<rect x="543" y="366" width="2" height="1" fill="#808080"/>
<rect x="543" y="370" width="4" height="1" fill="#808080"/>
<rect x="543" y="374" width="2" height="1" fill="#808080"/>
<rect x="543" y="378" width="2" height="1" fill="#808080"/>
<rect x="543" y="382" width="2" height="1" fill="#808080"/>
<rect x="543" y="387" width="2" height="1" fill="#808080"/>
<rect x="543" y="391" width="4" height="1" fill="#808080"/>
<rect x="543" y="395" width="2" height="1" fill="#808080"/>
<rect x="543" y="399" width="2" height="1" fill="#808080"/>
<rect x="543" y="404" width="2" height="1" fill="#808080"/>
<rect x="543" y="408" width="2" height="1" fill="#808080"/>
<rect x="543" y="412" width="2" height="1" fill="#808080"/>
<rect x="543" y="416" width="2" height="1" fill="#808080"/>
<rect x="38" y="198" width="1" height="5" fill="#808080"/>
<rect x="67" y="198" width="1" height="5" fill="#808080"/>
<rect x="113" y="198" width="1" height="5" fill="#808080"/>
<rect x="187" y="198" width="1" height="5" fill="#808080"/>
<rect x="216" y="198" width="1" height="5" fill="#808080"/>
<rect x="262" y="198" width="1" height="5" fill="#808080"/>
<rect x="291" y="198" width="1" height="5" fill="#808080"/>
<rect x="337" y="198" width="1" height="5" fill="#808080"/>
<rect x="366" y="198" width="1" height="5" fill="#808080"/>
<rect x="26" y="198" width="1" height="2" fill="#808080"/>
<rect x="90" y="198" width="1" height="2" fill="#808080"/>
<rect x="141" y="198" width="1" height="2" fill="#808080"/>
<rect x="164" y="198" width="1" height="2" fill="#808080"/>
<rect x="239" y="198" width="1" height="2" fill="#808080"/>
<rect x="314" y="198" width="1" height="2" fill="#808080"/>
<rect x="389" y="198" width="1" height="2" fill="#808080"/>
<rect x="43" y="419" width="1" height="5" fill="#808080"/>
<rect x="71" y="419" width="1" height="5" fill="#808080"/>
<rect x="116" y="419" width="1" height="5" fill="#808080"/>
<rect x="144" y="419" width="1" height="5" fill="#808080"/>
<rect x="167" y="419" width="1" height="5" fill="#808080"/>
<rect x="218" y="419" width="1" height="5" fill="#808080"/>
<rect x="291" y="419" width="1" height="5" fill="#808080"/>
<rect x="336" y="419" width="1" height="5" fill="#808080"/>
<rect x="364" y="419" width="1" height="5" fill="#808080"/>
<rect x="437" y="419" width="1" height="5" fill="#808080"/>
<rect x="460" y="419" width="1" height="5" fill="#808080"/>
<rect x="510" y="419" width="1" height="5" fill="#808080"/>
<rect x="26" y="419" width="1" height="2" fill="#808080"/>
<rect x="94" y="419" width="1" height="2" fill="#808080"/>
<rect x="195" y="419" width="1" height="2" fill="#808080"/>
<rect x="240" y="419" width="1" height="2" fill="#808080"/>
<rect x="268" y="419" width="1" height="2" fill="#808080"/>
<rect x="313" y="419" width="1" height="2" fill="#808080"/>
<rect x="386" y="419" width="1" height="2" fill="#808080"/>
<rect x="415" y="419" width="1" height="2" fill="#808080"/>
<rect x="488" y="419" width="1" height="2" fill="#808080"/>
<rect x="533" y="419" width="1" height="2" fill="#808080"/>
</g>
<g shape-rendering="crispEdges">
<rect x="251" y="135" width="1" height="1" fill="#ff0000"/><rect x="252" y="134" width="2" height="1" fill="#ff0000"/><rect x="254" y="133" width="2" height="1" fill="#ff0000"/><rect x="256" y="132" width="2" height="1" fill="#ff0000"/><rect x="258" y="131" width="1" height="1" fill="#dc0000"/><rect x="259" y="130" width="2" height="1" fill="#dc0000"/><rect x="261" y="129" width="2" height="1" fill="#dc0000"/><rect x="263" y="128" width="1" height="1" fill="#dc0000"/><rect x="264" y="127" width="2" height="1" fill="#dc0000"/><rect x="266" y="126" width="2" height="1" fill="#dc0000"/><rect x="268" y="125" width="2" height="1" fill="#dc0000"/><rect x="270" y="124" width="1" height="1" fill="#dc0000"/><rect x="271" y="123" width="2" height="1" fill="#dc0000"/><rect x="273" y="122" width="2" height="1" fill="#dc0000"/><rect x="275" y="121" width="1" height="1" fill="#dc0000"/><rect x="276" y="120" width="2" height="1" fill="#dc0000"/><rect x="278" y="119" width="2" height="1" fill="#dc0000"/><rect x="280" y="118" width="2" height="1" fill="#dc0000"/><rect x="282" y="117" width="1" height="1" fill="#dc0000"/><rect x="283" y="116" width="2" height="1" fill="#dc0000"/><rect x="285" y="115" width="2" height="1" fill="#dc0000"/><rect x="287" y="114" width="1" height="1" fill="#dc0000"/><rect x="288" y="113" width="2" height="1" fill="#dc0000"/><rect x="290" y="112" width="2" height="1" fill="#dc0000"/><rect x="292" y="111" width="2" height="1" fill="#dc0000"/><rect x="294" y="110" width="1" height="1" fill="#dc0000"/><rect x="295" y="109" width="2" height="1" fill="#dc0000"/><rect x="297" y="108" width="2" height="1" fill="#dc0000"/><rect x="299" y="107" width="1" height="1" fill="#dc0000"/><rect x="300" y="106" width="2" height="1" fill="#dc0000"/><rect x="302" y="105" width="2" height="1" fill="#dc0000"/><rect x="304" y="104" width="2" height="1" fill="#dc0000"/><rect x="306" y="103" width="1" height="1" fill="#dc0000"/><rect x="307" y="102" width="2" height="1" fill="#dc0000"/><rect x="309" y="101" width="2" height="1" fill="#dc0000"/><rect x="311" y="100" width="2" height="1" fill="#dc0000"/><rect x="313" y="99" width="1" height="1" fill="#dc0000"/><rect x="314" y="98" width="2" height="1" fill="#dc0000"/><rect x="316" y="97" width="2" height="1" fill="#dc0000"/><rect x="318" y="96" width="1" height="1" fill="#dc0000"/><rect x="319" y="95" width="2" height="1" fill="#dc0000"/><rect x="321" y="94" width="2" height="1" fill="#dc0000"/><rect x="323" y="93" width="2" height="1" fill="#dc0000"/><rect x="325" y="92" width="1" height="1" fill="#dc0000"/><rect x="326" y="91" width="2" height="1" fill="#dc0000"/><rect x="328" y="90" width="2" height="1" fill="#dc0000"/><rect x="330" y="89" width="1" height="1" fill="#dc0000"/><rect x="331" y="88" width="2" height="1" fill="#dc0000"/><rect x="333" y="87" width="2" height="1" fill="#dc0000"/><rect x="335" y="86" width="2" height="1" fill="#dc0000"/><rect x="337" y="85" width="1" height="1" fill="#dc0000"/><rect x="338" y="84" width="2" height="1" fill="#dc0000"/><rect x="340" y="83" width="2" height="1" fill="#dc0000"/><rect x="342" y="82" width="1" height="1" fill="#dc0000"/><rect x="343" y="81" width="2" height="1" fill="#dc0000"/><rect x="345" y="80" width="2" height="1" fill="#dc0000"/><rect x="347" y="79" width="2" height="1" fill="#dc0000"/><rect x="349" y="78" width="1" height="1" fill="#dc0000"/><rect x="350" y="77" width="2" height="1" fill="#dc0000"/><rect x="352" y="76" width="2" height="1" fill="#dc0000"/><rect x="354" y="75" width="1" height="1" fill="#dc0000"/><rect x="355" y="74" width="2" height="1" fill="#dc0000"/><rect x="357" y="73" width="2" height="1" fill="#dc0000"/><rect x="359" y="72" width="2" height="1" fill="#dc0000"/><rect x="361" y="71" width="1" height="1" fill="#dc0000"/><rect x="362" y="70" width="2" height="1" fill="#dc0000"/><rect x="364" y="69" width="2" height="1" fill="#dc0000"/><rect x="366" y="68" width="2" height="1" fill="#dc0000"/><rect x="368" y="67" width="1" height="1" fill="#dc0000"/><rect x="369" y="66" width="2" height="1" fill="#dc0000"/><rect x="371" y="65" width="2" height="1" fill="#dc0000"/><rect x="373" y="64" width="1" height="1" fill="#dc0000"/><rect x="374" y="63" width="2" height="1" fill="#dc0000"/><rect x="376" y="62" width="2" height="1" fill="#dc0000"/><rect x="378" y="61" width="2" height="1" fill="#dc0000"/><rect x="380" y="60" width="1" height="1" fill="#dc0000"/><rect x="381" y="59" width="2" height="1" fill="#dc0000"/><rect x="383" y="58" width="2" height="1" fill="#dc0000"/><rect x="385" y="57" width="1" height="1" fill="#dc0000"/><rect x="386" y="56" width="2" height="1" fill="#dc0000"/><rect x="388" y="55" width="2" height="1" fill="#dc0000"/><rect x="390" y="54" width="2" height="1" fill="#dc0000"/><rect x="392" y="53" width="1" height="1" fill="#dc0000"/><rect x="393" y="52" width="2" height="1" fill="#dc0000"/><rect x="395" y="51" width="2" height="1" fill="#dc0000"/><rect x="397" y="50" width="1" height="1" fill="#dc0000"/><rect x="398" y="49" width="2" height="1" fill="#dc0000"/><rect x="400" y="48" width="2" height="1" fill="#dc0000"/><rect x="402" y="47" width="2" height="1" fill="#dc0000"/><rect x="404" y="46" width="1" height="1" fill="#dc0000"/><rect x="405" y="45" width="2" height="1" fill="#dc0000"/><rect x="407" y="44" width="2" height="1" fill="#dc0000"/><rect x="409" y="43" width="1" height="1" fill="#dc0000"/><rect x="410" y="42" width="2" height="1" fill="#dc0000"/><rect x="412" y="41" width="2" height="1" fill="#dc0000"/><rect x="414" y="40" width="2" height="1" fill="#dc0000"/><rect x="416" y="39" width="1" height="1" fill="#dc0000"/>
<rect x="263" y="369" width="1" height="1" fill="#ff0000"/><rect x="264" y="368" width="2" height="1" fill="#ff0000"/><rect x="266" y="367" width="2" height="1" fill="#ff0000"/><rect x="268" y="366" width="2" height="1" fill="#ff0000"/><rect x="270" y="365" width="2" height="1" fill="#dc0000"/><rect x="272" y="364" width="2" height="1" fill="#dc0000"/><rect x="274" y="363" width="2" height="1" fill="#dc0000"/><rect x="276" y="362" width="2" height="1" fill="#dc0000"/><rect x="278" y="361" width="2" height="1" fill="#dc0000"/><rect x="280" y="360" width="2" height="1" fill="#dc0000"/><rect x="282" y="359" width="2" height="1" fill="#dc0000"/><rect x="284" y="358" width="2" height="1" fill="#dc0000"/><rect x="286" y="357" width="2" height="1" fill="#dc0000"/><rect x="288" y="356" width="2" height="1" fill="#dc0000"/><rect x="290" y="355" width="2" height="1" fill="#dc0000"/><rect x="292" y="354" width="2" height="1" fill="#dc0000"/><rect x="294" y="353" width="2" height="1" fill="#dc0000"/><rect x="296" y="352" width="2" height="1" fill="#dc0000"/><rect x="298" y="351" width="1" height="1" fill="#dc0000"/><rect x="299" y="350" width="2" height="1" fill="#dc0000"/><rect x="301" y="349" width="2" height="1" fill="#dc0000"/><rect x="303" y="348" width="2" height="1" fill="#dc0000"/><rect x="305" y="347" width="2" height="1" fill="#dc0000"/><rect x="307" y="346" width="2" height="1" fill="#dc0000"/><rect x="309" y="345" width="2" height="1" fill="#dc0000"/><rect x="311" y="344" width="2" height="1" fill="#dc0000"/><rect x="313" y="343" width="2" height="1" fill="#dc0000"/><rect x="315" y="342" width="2" height="1" fill="#dc0000"/><rect x="317" y="341" width="2" height="1" fill="#dc0000"/><rect x="319" y="340" width="2" height="1" fill="#dc0000"/><rect x="321" y="339" width="2" height="1" fill="#dc0000"/><rect x="323" y="338" width="2" height="1" fill="#dc0000"/><rect x="325" y="337" width="2" height="1" fill="#dc0000"/><rect x="327" y="336" width="2" height="1" fill="#dc0000"/><rect x="329" y="335" width="2" height="1" fill="#dc0000"/><rect x="331" y="334" width="2" height="1" fill="#dc0000"/><rect x="333" y="333" width="1" height="1" fill="#dc0000"/><rect x="334" y="332" width="2" height="1" fill="#dc0000"/><rect x="336" y="331" width="2" height="1" fill="#dc0000"/><rect x="338" y="330" width="2" height="1" fill="#dc0000"/><rect x="340" y="329" width="2" height="1" fill="#dc0000"/><rect x="342" y="328" width="2" height="1" fill="#dc0000"/><rect x="344" y="327" width="2" height="1" fill="#dc0000"/><rect x="346" y="326" width="2" height="1" fill="#dc0000"/><rect x="348" y="325" width="2" height="1" fill="#dc0000"/><rect x="350" y="324" width="2" height="1" fill="#dc0000"/><rect x="352" y="323" width="2" height="1" fill="#dc0000"/><rect x="354" y="322" width="2" height="1" fill="#dc0000"/><rect x="356" y="321" width="2" height="1" fill="#dc0000"/><rect x="358" y="320" width="2" height="1" fill="#dc0000"/><rect x="360" y="319" width="2" height="1" fill="#dc0000"/><rect x="362" y="318" width="2" height="1" fill="#dc0000"/><rect x="364" y="317" width="2" height="1" fill="#dc0000"/><rect x="366" y="316" width="2" height="1" fill="#dc0000"/><rect x="368" y="315" width="1" height="1" fill="#dc0000"/><rect x="369" y="314" width="2" height="1" fill="#dc0000"/><rect x="371" y="313" width="2" height="1" fill="#dc0000"/><rect x="373" y="312" width="2" height="1" fill="#dc0000"/><rect x="375" y="311" width="2" height="1" fill="#dc0000"/><rect x="377" y="310" width="2" height="1" fill="#dc0000"/><rect x="379" y="309" width="2" height="1" fill="#dc0000"/><rect x="381" y="308" width="2" height="1" fill="#dc0000"/><rect x="383" y="307" width="2" height="1" fill="#dc0000"/><rect x="385" y="306" width="2" height="1" fill="#dc0000"/><rect x="387" y="305" width="2" height="1" fill="#dc0000"/><rect x="389" y="304" width="2" height="1" fill="#dc0000"/><rect x="391" y="303" width="2" height="1" fill="#dc0000"/><rect x="393" y="302" width="2" height="1" fill="#dc0000"/><rect x="395" y="301" width="2" height="1" fill="#dc0000"/><rect x="397" y="300" width="2" height="1" fill="#dc0000"/><rect x="399" y="299" width="2" height="1" fill="#dc0000"/><rect x="401" y="298" width="1" height="1" fill="#dc0000"/><rect x="402" y="297" width="2" height="1" fill="#dc0000"/><rect x="404" y="296" width="2" height="1" fill="#dc0000"/><rect x="406" y="295" width="2" height="1" fill="#dc0000"/><rect x="408" y="294" width="2" height="1" fill="#dc0000"/><rect x="410" y="293" width="2" height="1" fill="#dc0000"/><rect x="412" y="292" width="2" height="1" fill="#dc0000"/><rect x="414" y="291" width="2" height="1" fill="#dc0000"/><rect x="416" y="290" width="2" height="1" fill="#dc0000"/><rect x="418" y="289" width="2" height="1" fill="#dc0000"/><rect x="420" y="288" width="2" height="1" fill="#dc0000"/><rect x="422" y="287" width="2" height="1" fill="#dc0000"/><rect x="424" y="286" width="2" height="1" fill="#dc0000"/><rect x="426" y="285" width="2" height="1" fill="#dc0000"/><rect x="428" y="284" width="2" height="1" fill="#dc0000"/><rect x="430" y="283" width="2" height="1" fill="#dc0000"/><rect x="432" y="282" width="2" height="1" fill="#dc0000"/><rect x="434" y="281" width="2" height="1" fill="#dc0000"/><rect x="436" y="280" width="1" height="1" fill="#dc0000"/><rect x="437" y="279" width="2" height="1" fill="#dc0000"/><rect x="439" y="278" width="2" height="1" fill="#dc0000"/><rect x="441" y="277" width="2" height="1" fill="#dc0000"/><rect x="443" y="276" width="2" height="1" fill="#dc0000"/><rect x="445" y="275" width="2" height="1" fill="#dc0000"/><rect x="447" y="274" width="2" height="1" fill="#dc0000"/><rect x="449" y="273" width="2" height="1" fill="#ff0000"/><rect x="451" y="272" width="2" height="1" fill="#ff0000"/><rect x="453" y="271" width="2" height="1" fill="#ff0000"/><rect x="455" y="270" width="2" height="1" fill="#ff0000"/><rect x="457" y="269" width="2" height="1" fill="#ff0000"/><rect x="459" y="268" width="2" height="1" fill="#ff0000"/><rect x="461" y="267" width="2" height="1" fill="#ff0000"/><rect x="463" y="266" width="2" height="1" fill="#ff0000"/><rect x="465" y="265" width="2" height="1" fill="#ff0000"/><rect x="467" y="264" width="2" height="1" fill="#ff0000"/><rect x="469" y="263" width="2" height="1" fill="#ff0000"/><rect x="471" y="262" width="1" height="1" fill="#ff0000"/>
</g>
<g id="hdr" filter="url(#px)">
<text x="39.5" y="21" font-size="11" textLength="103.5" lengthAdjust="spacing">XETRA DAX PF, .DAX,</text>
<text x="148" y="21" font-size="11" textLength="63.5" lengthAdjust="spacing">Wochenchart</text>
<text x="215" y="21" font-size="11" textLength="166" lengthAdjust="spacing">- 9/18/2005 - 12/3/2006 - 6281.68</text>
<text y="35" font-size="11"><tspan x="24.3" dy="0.5" font-size="12.5" font-family="DejaVu Sans, sans-serif" font-stretch="normal">© </tspan><tspan x="38.3" dy="-0.5" textLength="104" lengthAdjust="spacing">www.tradesignal.com</tspan></text>
<!-- -->
<text x="544.5" y="21" font-size="11" textLength="19.5" lengthAdjust="spacing">EUR</text>
<text x="39.3" y="242" font-size="11" textLength="19.6" lengthAdjust="spacing">DAX</text>
<text x="65.4" y="242" font-size="11" textLength="66.9" lengthAdjust="spacing">- DEUTSCHER</text>
<text x="135.1" y="242" font-size="11" textLength="64" lengthAdjust="spacing">AKTIENINDEX</text>
<text x="203.4" y="242" font-size="11" textLength="113.3" lengthAdjust="spacing">(PERFORMANCEINDEX)</text>
<text x="320" y="242" font-size="11" textLength="29.5" lengthAdjust="spacing">,.DAX,</text>
<text x="355" y="242" font-size="11" textLength="63" lengthAdjust="spacing">Wochenchart</text>
<text x="421" y="242" font-size="11" textLength="118" lengthAdjust="spacing">- 2/9/1997 - 11/8/1998 -</text>
<text x="544.5" y="242" font-size="11" textLength="19.5" lengthAdjust="spacing">EUR</text>
<text y="256" font-size="11"><tspan x="24.3" dy="0.5" font-size="12.5" font-family="DejaVu Sans, sans-serif" font-stretch="normal">© </tspan><tspan x="38.3" dy="-0.5" textLength="104" lengthAdjust="spacing">www.tradesignal.com</tspan></text>
<!-- -->
</g>
<g id="ylab" filter="url(#px)">
<text x="548.5" y="62" font-size="11" textLength="24" lengthAdjust="spacing">6200</text>
<text x="548.5" y="78" font-size="11" textLength="24" lengthAdjust="spacing">6000</text>
<text x="548.5" y="93" font-size="11" textLength="24" lengthAdjust="spacing">5800</text>
<text x="548.5" y="109" font-size="11" textLength="24" lengthAdjust="spacing">5600</text>
<text x="548.5" y="124" font-size="11" textLength="24" lengthAdjust="spacing">5400</text>
<text x="548.5" y="140" font-size="11" textLength="24" lengthAdjust="spacing">5200</text>
<text x="548.5" y="155" font-size="11" textLength="24" lengthAdjust="spacing">5000</text>
<text x="548.5" y="171" font-size="11" textLength="24" lengthAdjust="spacing">4800</text>
<text x="548.5" y="186" font-size="11" textLength="24" lengthAdjust="spacing">4600</text>
<text x="548.5" y="290" font-size="11" textLength="24" lengthAdjust="spacing">5500</text>
<text x="548.5" y="311" font-size="11" textLength="24" lengthAdjust="spacing">5000</text>
<text x="548.5" y="332" font-size="11" textLength="24" lengthAdjust="spacing">4500</text>
<text x="548.5" y="354" font-size="11" textLength="24" lengthAdjust="spacing">4000</text>
<text x="548.5" y="375" font-size="11" textLength="24" lengthAdjust="spacing">3500</text>
<text x="548.5" y="396" font-size="11" textLength="24" lengthAdjust="spacing">3000</text>
</g>
<g id="xlab" filter="url(#px)">
<text x="41.5" y="216" font-size="11" textLength="16.5" lengthAdjust="spacing">Oct</text>
<text x="66.0" y="216" font-size="11" textLength="19" lengthAdjust="spacing">Nov</text>
<text x="112.5" y="216" font-size="11" textLength="24" lengthAdjust="spacing">2006</text>
<text x="190.5" y="216" font-size="11" textLength="16" lengthAdjust="spacing">Apr</text>
<text x="215.5" y="216" font-size="11" textLength="19" lengthAdjust="spacing">May</text>
<text x="267.5" y="216" font-size="11" textLength="12.5" lengthAdjust="spacing">Jul</text>
<text x="290.5" y="216" font-size="11" textLength="18.5" lengthAdjust="spacing">Aug</text>
<text x="340.5" y="216" font-size="11" textLength="16.5" lengthAdjust="spacing">Oct</text>
<text x="365.0" y="216" font-size="11" textLength="19" lengthAdjust="spacing">Nov</text>
<text x="45.0" y="437" font-size="11" textLength="17.5" lengthAdjust="spacing">Mar</text>
<text x="72.0" y="437" font-size="11" textLength="16" lengthAdjust="spacing">Apr</text>
<text x="120.0" y="437" font-size="11" textLength="16.5" lengthAdjust="spacing">Jun</text>
<text x="147.0" y="437" font-size="11" textLength="12.5" lengthAdjust="spacing">Jul</text>
<text x="169.5" y="437" font-size="11" textLength="18.5" lengthAdjust="spacing">Aug</text>
<text x="218.5" y="437" font-size="11" textLength="16.5" lengthAdjust="spacing">Oct</text>
<text x="291.0" y="437" font-size="11" textLength="24" lengthAdjust="spacing">1998</text>
<text x="338.0" y="437" font-size="11" textLength="17.5" lengthAdjust="spacing">Mar</text>
<text x="364.5" y="437" font-size="11" textLength="16" lengthAdjust="spacing">Apr</text>
<text x="439.5" y="437" font-size="11" textLength="12.5" lengthAdjust="spacing">Jul</text>
<text x="462.5" y="437" font-size="11" textLength="18.5" lengthAdjust="spacing">Aug</text>
<text x="510.0" y="437" font-size="11" textLength="16.5" lengthAdjust="spacing">Oct</text>
</g>
</svg>
</body></html>
